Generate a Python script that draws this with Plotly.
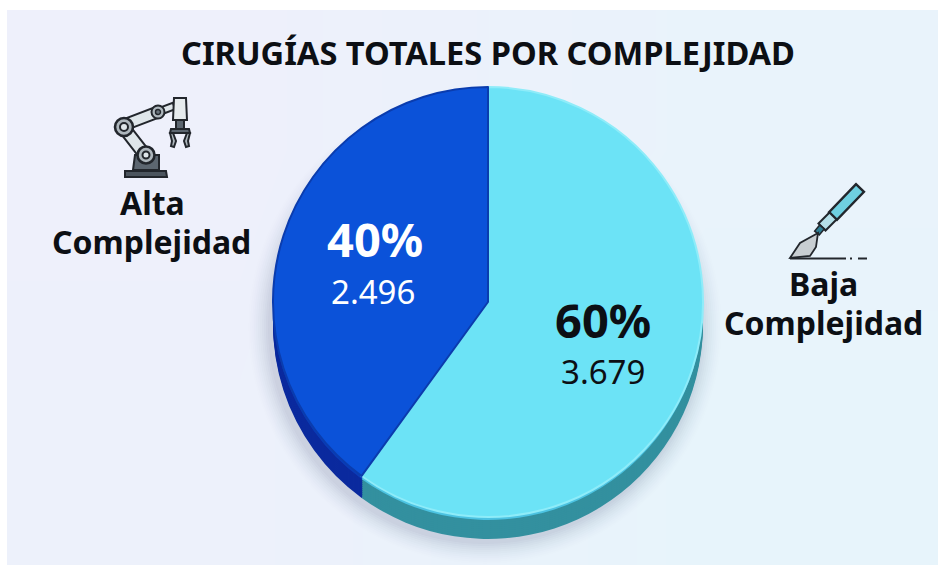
import math
import plotly.graph_objects as go

# ---- data ----
categories = ["Baja Complejidad", "Alta Complejidad"]
percent_shares = [60, 40]
percent_labels = ["60%", "40%"]
count_labels = ["3.679", "2.496"]
title_text = "CIRUGÍAS TOTALES POR COMPLEJIDAD"

# ---- style ----
W, H = 938, 565
CX, CY, R, DEPTH = 488, 302, 215, 22
FONT = "Noto Sans"
TOP = ["#6ce3f6", "#0b52d9"]
EDGE = ["#8eecf9", "#0a3cae"]
RIM = ["#4cc3e2", "#0a3cb8"]
SIDE = ["#33909f", "#0b2a9e"]
INK = "#0c0f14"


def dom(cx, cy, r):
    return dict(x=[(cx - r) / W, (cx + r) / W], y=[1 - (cy + r) / H, 1 - (cy - r) / H])


def pie(cx, cy, r, colors, line=None, lw=0, vals=None):
    return go.Pie(
        values=vals or percent_shares, labels=categories if not vals else None,
        domain=dom(cx, cy, r), sort=False, direction="clockwise", rotation=0,
        textinfo="none", hoverinfo="skip" if vals else "label+percent", showlegend=False,
        marker=dict(colors=colors, line=dict(color=line or colors, width=lw)),
    )


fig = go.Figure()

# background panel
fig.add_trace(go.Heatmap(
    z=[[0.0, 0.7], [0.15, 1.0]], x=[7, 472, 938], y=[10, 287, 565], zsmooth="best",
    colorscale=[[0, "#eef0fb"], [1, "#e7f4fb"]], showscale=False, hoverinfo="skip",
))

# soft shadow
for dr in range(22, 0, -2):
    fig.add_trace(pie(CX - 3, CY + DEPTH + 3, R + dr, [f"rgba(40,50,90,{0.004 + (22 - dr) * 0.001:.4f})"], vals=[1]))

# extruded side
for d in range(DEPTH, 2, -2):
    fig.add_trace(pie(CX, CY + d, R, SIDE))
fig.add_trace(pie(CX, CY + 3, R, RIM))
# top face
fig.add_trace(pie(CX, CY, R, TOP, line=EDGE, lw=2))


def ann(x, y, text, size, color=INK, bold=True):
    fig.add_annotation(x=x, y=y, xref="x", yref="y", text=f"<b>{text}</b>" if bold else text,
                       showarrow=False, xanchor="center", yanchor="middle",
                       font=dict(family=FONT, size=size, color=color))


ann(488, 52, title_text, 32.6)
ann(152, 202, "Alta", 32)
ann(151, 241, "Complejidad", 32)
ann(823, 283, "Baja", 32)
ann(823, 322, "Complejidad", 32)
ann(375, 239, percent_labels[1], 47, "#ffffff")
ann(373, 291, count_labels[1], 33, "#ffffff", False)
ann(603, 320, percent_labels[0], 47, INK)
ann(603, 371, count_labels[0], 33, INK, False)

# ---- icons (decoration, pixel space) ----
shapes = []


def poly(pts, fill, line="#22262c", lw=2):
    p = "M" + " L".join(f"{x},{y}" for x, y in pts) + " Z"
    shapes.append(dict(type="path", path=p, fillcolor=fill, line=dict(color=line, width=lw),
                       xref="x", yref="y", layer="above"))


def bar(x0, y0, x1, y1, w, fill, line="#22262c", lw=2):
    dx, dy = x1 - x0, y1 - y0
    n = math.hypot(dx, dy)
    ox, oy = -dy / n * w / 2, dx / n * w / 2
    poly([(x0 + ox, y0 + oy), (x1 + ox, y1 + oy), (x1 - ox, y1 - oy), (x0 - ox, y0 - oy)], fill, line, lw)


def disc(x, y, r, fill, line="#22262c", lw=2):
    shapes.append(dict(type="circle", x0=x - r, x1=x + r, y0=y - r, y1=y + r, fillcolor=fill,
                       line=dict(color=line, width=lw), xref="x", yref="y", layer="above"))


# robot arm
poly([(133, 170), (135, 155), (159, 155), (159, 170)], "#5c6670")
poly([(125, 171), (166, 171), (167, 177), (125, 177)], "#4c555e")
bar(124, 128, 145, 155, 12, "#dfe6ea")
bar(124, 125, 158, 112, 11, "#dfe6ea")
bar(158, 112, 174, 106, 7, "#dfe6ea")
disc(146, 155, 8.5, "#aeb7bd", lw=2.6)
disc(146, 155, 3.5, "#dfe6ea")
disc(124, 127, 9, "#aeb7bd", lw=2.6)
disc(124, 127, 4, "#dfe6ea")
disc(158, 112, 6.5, "#aeb7bd", lw=2)
disc(158, 112, 2.5, "#6a747c", lw=1.4)
poly([(174, 98), (186, 98), (187, 120), (173, 120)], "#e6ebee")
poly([(176, 120), (184, 120), (184, 130), (176, 130)], "#5c6670")
poly([(171, 129), (189, 129), (190, 133), (170, 133)], "#5c6670")
poly([(170, 133), (173, 133), (176, 141), (174, 147), (171, 146), (172, 141)], "#aeb7bd")
poly([(190, 133), (187, 133), (184, 141), (186, 147), (189, 146), (188, 141)], "#aeb7bd")

# scalpel
bar(860, 188, 833, 216, 11, "#6fcfe0", lw=2.4)
bar(833, 216, 822, 227, 10, "#b5dfe8", lw=2)
bar(822, 227, 817, 233, 6, "#2f7f95", lw=1.6)
poly([(818, 233), (800, 243), (790, 258), (810, 256), (816, 247)], "#c8ced2", lw=1.8)
for x0, x1, w in [(790, 846, 2), (850, 852, 2), (858, 867, 2)]:
    shapes.append(dict(type="line", x0=x0, x1=x1, y0=258.5, y1=258.5, xref="x", yref="y", layer="above",
                       line=dict(color="#22262c", width=w)))

fig.update_layout(
    width=W, height=H, margin=dict(l=0, r=0, t=0, b=0), autosize=False,
    paper_bgcolor="#ffffff", plot_bgcolor="#ffffff", shapes=shapes,
    xaxis=dict(range=[0, W], visible=False, fixedrange=True),
    yaxis=dict(range=[H, 0], visible=False, fixedrange=True),
)
fig.write_html("out.html", include_plotlyjs=True, config=dict(displayModeBar=False),
               post_script="document.body.style.margin='0';")
